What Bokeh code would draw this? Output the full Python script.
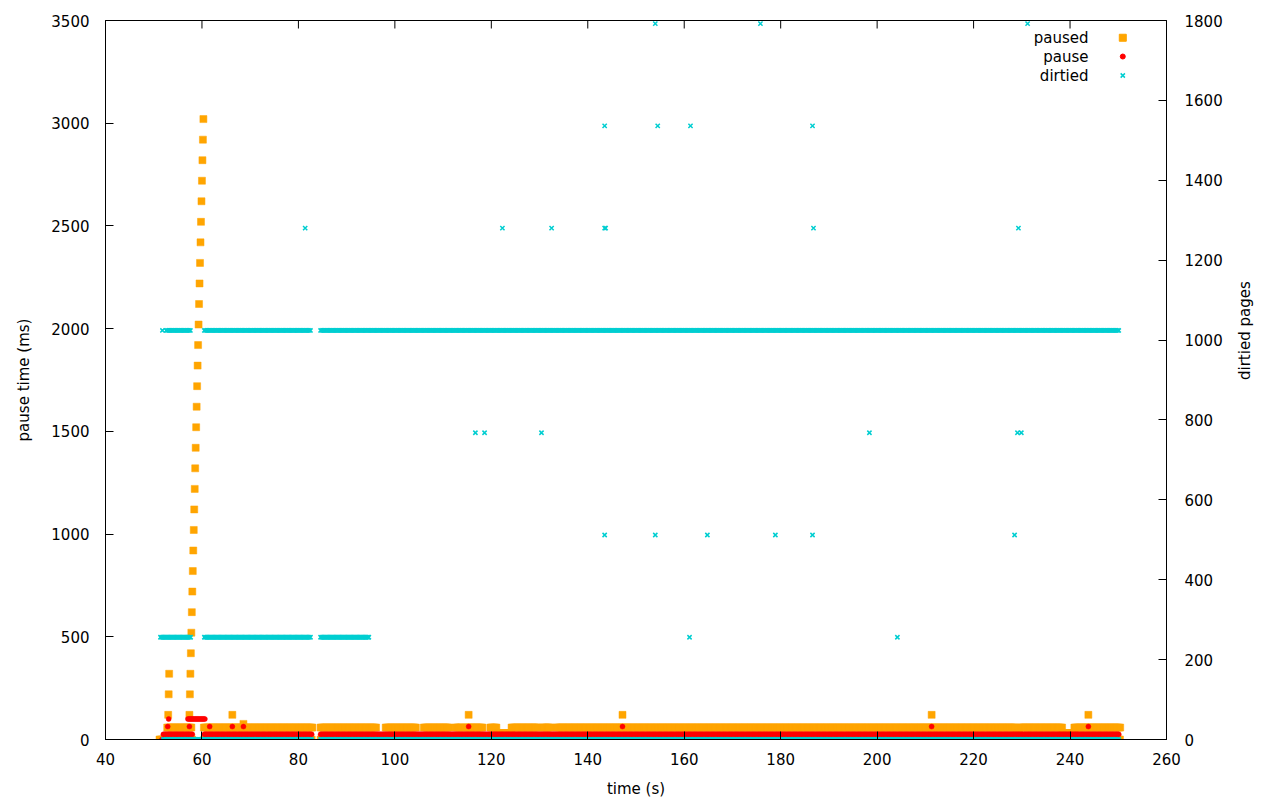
import math
import numpy as np
from bokeh.plotting import figure
from bokeh.models import Range1d, LinearAxis, SingleIntervalTicker
from bokeh.embed import file_html
from bokeh.resources import INLINE
from bokeh.core.properties import value

# sampling interval of the recorded runs (s)
SAMPLE_DT = 0.25

# ---------------- paused (ms, left axis) ----------------
# constant runs: start (s), end (s), value (ms)
paused_run_start = [51.2, 60.5, 84.6,
                    52.8, 60.4, 84.6, 98.1, 106.0, 112.6, 114.4, 119.8, 124.2, 130.6, 133.5, 195.0, 229.6, 240.9,
                    121.1, 228.9, 238.4]
paused_run_end = [58.1, 82.9, 250.5,
                  58.0, 82.9, 96.1, 104.4, 111.3, 114.0, 118.2, 121.1, 129.8, 132.5, 194.8, 228.9, 238.4, 250.5,
                  124.2, 229.6, 240.9]
paused_run_value = [0, 0, 0,
                    58, 58, 58, 58, 58, 58, 58, 58, 58, 58, 58, 58, 58, 58,
                    30, 30, 30]
# single samples: early spikes, the pause ramp and isolated outliers
paused_time = [53.0, 53.1, 53.2,
               57.4, 57.5, 57.6, 57.7, 57.8, 57.9, 58.0, 58.1, 58.2, 58.3,
               58.4, 58.5, 58.6, 58.7, 58.8, 58.9, 59.0, 59.1, 59.2, 59.3,
               59.4, 59.5, 59.6, 59.7, 59.8, 59.9, 60.0, 60.1, 60.2, 60.3,
               66.3, 68.6, 115.3, 147.2, 211.3, 243.8]
paused_ms = [120, 220, 320,
             120, 220, 320, 420, 520, 620, 720, 820, 920, 1020,
             1120, 1220, 1320, 1420, 1520, 1620, 1720, 1820, 1920, 2020,
             2120, 2220, 2320, 2420, 2520, 2620, 2720, 2820, 2920, 3020,
             120, 76, 120, 120, 120, 120]

# ---------------- pause (ms, left axis) ----------------
pause_run_start = [52.0, 60.5, 84.6, 57.1]
pause_run_end = [58.0, 82.9, 250.3, 60.7]
pause_run_value = [25, 25, 25, 100]
pause_time = [51.7, 53.1, 52.9, 57.4, 61.6, 66.3, 68.6, 115.3, 147.2, 211.3, 243.8]
pause_ms = [0, 100, 63, 63, 63, 63, 63, 63, 63, 63, 63]

# ---------------- dirtied (pages, right axis) ----------------
dirtied_run_start = [52.0, 84.6, 52.6, 60.5, 84.6, 51.4, 60.5, 84.6]
dirtied_run_end = [82.9, 250.3, 57.8, 82.6, 250.3, 57.8, 82.6, 94.6]
dirtied_run_value = [0, 0, 1024, 1024, 1024, 256, 256, 256]
dirtied_time = [51.8,
                154.0, 175.8, 231.2,
                143.5, 154.5, 161.3, 186.6,
                81.4, 122.3, 132.5, 143.5, 143.7, 186.8, 229.3,
                116.7, 118.6, 130.4, 198.4, 229.1, 229.9,
                143.5, 154.0, 164.8, 178.9, 186.6, 228.5,
                161.1, 204.2]
dirtied_pages = [1024,
                 1792, 1792, 1792,
                 1536, 1536, 1536, 1536,
                 1280, 1280, 1280, 1280, 1280, 1280, 1280,
                 768, 768, 768, 768, 768, 768,
                 512, 512, 512, 512, 512, 512,
                 256, 256]

series_names = ["paused", "pause", "dirtied"]
x_tick_values = [40, 60, 80, 100, 120, 140, 160, 180, 200, 220, 240, 260]
x_ticks_step = 20
y_ticks_step = 500
y2_ticks_step = 200


def expand(starts, ends, vals, extra_t, extra_v):
    ts, vs = [], []
    for s, e, v in zip(starts, ends, vals):
        t = np.arange(s, e + 1e-9, SAMPLE_DT)
        ts.append(t)
        vs.append(np.full(len(t), float(v)))
    ts.append(np.asarray(extra_t, float))
    vs.append(np.asarray(extra_v, float))
    return np.concatenate(ts), np.concatenate(vs)


px, py = expand(paused_run_start, paused_run_end, paused_run_value, paused_time, paused_ms)
rx, ry = expand(pause_run_start, pause_run_end, pause_run_value, pause_time, pause_ms)
dx, dy = expand(dirtied_run_start, dirtied_run_end, dirtied_run_value, dirtied_time, dirtied_pages)

FONT = "DejaVu Sans"
FS = "15px"
ORANGE = "#FFA500"
RED = "#FF0000"
CYAN = "#00CED1"
FRAME_H = 719
TICK_LEN = 8

p = figure(frame_width=1061, frame_height=FRAME_H,
           x_range=Range1d(40, 260), y_range=Range1d(0, 3500),
           output_backend="svg", toolbar_location=None,
           min_border_left=105, min_border_right=106, min_border_top=20, min_border_bottom=53,
           background_fill_color="white", border_fill_color="white")
p.extra_y_ranges = {"y2": Range1d(0, 1800), "ly": Range1d(0, 1)}
p.extra_x_ranges = {"lx": Range1d(0, 1)}
p.xgrid.visible = False
p.ygrid.visible = False
p.outline_line_color = "black"
p.outline_line_width = 1


def style_axis(ax):
    ax.major_tick_in = TICK_LEN
    ax.major_tick_out = 0
    ax.minor_tick_line_color = None
    ax.axis_line_color = "black"
    ax.major_tick_line_color = "black"
    ax.major_label_text_font = FONT
    ax.major_label_text_font_size = FS
    ax.major_label_text_color = "black"
    ax.axis_label_text_font = FONT
    ax.axis_label_text_font_size = FS
    ax.axis_label_text_font_style = "normal"
    ax.axis_label_text_color = "black"


p.xaxis.ticker = SingleIntervalTicker(interval=x_ticks_step)
p.xaxis.axis_label = "time (s)"
style_axis(p.xaxis[0])
p.xaxis.major_label_standoff = 9
p.xaxis.axis_label_standoff = 12

p.yaxis.ticker = SingleIntervalTicker(interval=y_ticks_step)
p.yaxis.axis_label = "pause time (ms)"
style_axis(p.yaxis[0])
p.yaxis.major_label_standoff = 12
p.yaxis.axis_label_standoff = 15

right = LinearAxis(y_range_name="y2", ticker=SingleIntervalTicker(interval=y2_ticks_step),
                   axis_label="dirtied pages")
style_axis(right)
right.major_label_standoff = 14
right.axis_label_standoff = 19
right.axis_label_orientation = math.pi / 2
p.add_layout(right, "right")

# mirrored x ticks along the top edge of the frame (inward, like gnuplot)
n_top = len(x_tick_values)
p.segment(x0=x_tick_values, x1=x_tick_values,
          y0=[1.0] * n_top, y1=[1.0 - TICK_LEN / FRAME_H] * n_top,
          y_range_name="ly", line_color="black", line_width=1)

p.scatter(px, py, marker="square", size=7, fill_color=ORANGE, line_color=ORANGE, line_width=0.5)
p.scatter(rx, ry, marker="circle", size=5, fill_color=RED, line_color=RED, line_width=0.5)
p.scatter(dx, dy, marker="x", size=6, line_color=CYAN, line_width=1.5, y_range_name="y2")

# gnuplot-style key: right-aligned text with the sample marker to its right
key_text_x = [0.9265] * 3
key_mark_x = [0.9588] * 3
key_y = [0.9760, 0.9499, 0.9235]
p.text(key_text_x, key_y, text=series_names, x_range_name="lx", y_range_name="ly",
       text_font=value(FONT), text_font_size=FS, text_align="right",
       text_baseline="middle", text_color="black")
p.scatter(key_mark_x[0:1], key_y[0:1], marker="square", size=7, fill_color=ORANGE, line_color=ORANGE,
          x_range_name="lx", y_range_name="ly")
p.scatter(key_mark_x[1:2], key_y[1:2], marker="circle", size=5, fill_color=RED, line_color=RED,
          x_range_name="lx", y_range_name="ly")
p.scatter(key_mark_x[2:3], key_y[2:3], marker="x", size=6, line_color=CYAN, line_width=1.5,
          x_range_name="lx", y_range_name="ly")

open("out.html", "w").write(file_html(p, INLINE))
